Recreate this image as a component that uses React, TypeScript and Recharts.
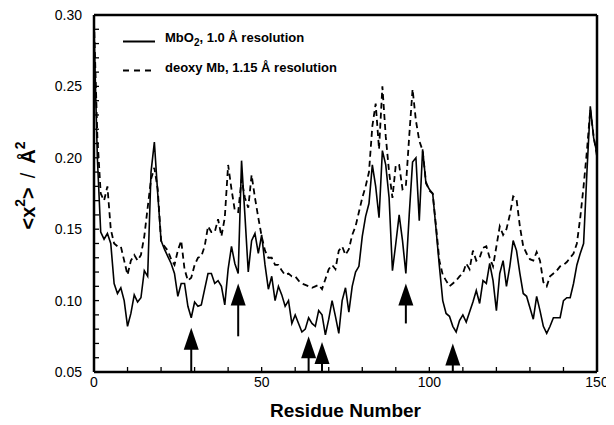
import React from "react";
import { ComposedChart, Line, XAxis, YAxis, ReferenceLine, ReferenceDot } from "recharts";

const FONT = '"Liberation Sans", Arial, Helvetica, sans-serif';

// mean-square displacement per residue
const mbo2 = [
  0.290, 0.200, 0.148, 0.143, 0.147, 0.140, 0.112, 0.105, 0.109, 0.100,
  0.082, 0.091, 0.104, 0.099, 0.102, 0.121, 0.117, 0.190, 0.211, 0.175,
  0.142, 0.136, 0.131, 0.126, 0.119, 0.103, 0.112, 0.112, 0.096, 0.088,
  0.099, 0.096, 0.097, 0.108, 0.119, 0.119, 0.112, 0.114, 0.110, 0.097,
  0.122, 0.138, 0.126, 0.119, 0.198, 0.160, 0.120, 0.142, 0.147, 0.133,
  0.146, 0.125, 0.108, 0.117, 0.100, 0.110, 0.104, 0.096, 0.100, 0.084,
  0.090, 0.084, 0.078, 0.080, 0.088, 0.084, 0.082, 0.093, 0.090, 0.076,
  0.087, 0.100, 0.089, 0.077, 0.100, 0.109, 0.092, 0.110, 0.120, 0.124,
  0.145, 0.159, 0.168, 0.195, 0.180, 0.158, 0.205, 0.195, 0.172, 0.121,
  0.140, 0.160, 0.142, 0.119, 0.160, 0.197, 0.200, 0.156, 0.206, 0.182,
  0.178, 0.175, 0.150, 0.124, 0.100, 0.091, 0.089, 0.082, 0.078, 0.086,
  0.090, 0.085, 0.092, 0.099, 0.107, 0.098, 0.114, 0.112, 0.126, 0.114,
  0.093, 0.119, 0.128, 0.110, 0.124, 0.142, 0.135, 0.119, 0.105, 0.103,
  0.095, 0.087, 0.103, 0.093, 0.082, 0.077, 0.082, 0.088, 0.088, 0.088,
  0.100, 0.102, 0.102, 0.112, 0.125, 0.133, 0.140, 0.190, 0.236, 0.214,
  0.203,
];

const deoxy = [
  0.295, 0.215, 0.175, 0.170, 0.180, 0.150, 0.140, 0.138, 0.138, 0.128,
  0.118, 0.128, 0.132, 0.128, 0.132, 0.145, 0.165, 0.185, 0.193, 0.178,
  0.142, 0.138, 0.135, 0.129, 0.125, 0.135, 0.142, 0.122, 0.114, 0.116,
  0.125, 0.130, 0.131, 0.138, 0.152, 0.148, 0.148, 0.157, 0.145, 0.158,
  0.195, 0.178, 0.163, 0.162, 0.185, 0.172, 0.165, 0.188, 0.172, 0.158,
  0.145, 0.135, 0.130, 0.130, 0.125, 0.125, 0.121, 0.118, 0.119, 0.117,
  0.117, 0.114, 0.112, 0.111, 0.110, 0.109, 0.110, 0.111, 0.108, 0.115,
  0.122, 0.125, 0.122, 0.135, 0.138, 0.132, 0.136, 0.146, 0.152, 0.162,
  0.172, 0.180, 0.190, 0.222, 0.238, 0.206, 0.250, 0.215, 0.190, 0.172,
  0.195, 0.195, 0.178, 0.180, 0.215, 0.248, 0.226, 0.212, 0.205, 0.183,
  0.177, 0.175, 0.152, 0.128, 0.118, 0.114, 0.110, 0.112, 0.114, 0.117,
  0.119, 0.126, 0.122, 0.135, 0.128, 0.130, 0.137, 0.138, 0.130, 0.124,
  0.138, 0.152, 0.146, 0.150, 0.160, 0.173, 0.171, 0.152, 0.138, 0.133,
  0.129, 0.128, 0.134, 0.128, 0.113, 0.110, 0.117, 0.119, 0.121, 0.124,
  0.125, 0.127, 0.130, 0.133, 0.140, 0.158, 0.180, 0.205, 0.234, 0.215,
  0.201,
];

const xTicks = [0, 10, 20, 30, 40, 50, 60, 70, 80, 90, 100, 110, 120, 130, 140, 150];
const xLabels = [0, 50, 100, 150];
const yTicks = [
  0.05, 0.06, 0.07, 0.08, 0.09, 0.1, 0.11, 0.12, 0.13, 0.14, 0.15, 0.16, 0.17,
  0.18, 0.19, 0.2, 0.21, 0.22, 0.23, 0.24, 0.25, 0.26, 0.27, 0.28, 0.29, 0.3,
];
const yLabels = [0.05, 0.1, 0.15, 0.2, 0.25, 0.3];

// marked residues: arrow tip and tail heights
const arrowResidues = [29, 43, 64, 68, 93, 107];
const arrowTips = [0.081, 0.112, 0.075, 0.071, 0.112, 0.07];
const arrowTails = [0.05, 0.075, 0.05, 0.05, 0.084, 0.05];

const data = mbo2.map((v, i) => ({ residue: i, mbo2: v, deoxy: deoxy[i] }));

const frame = { stroke: "#000", strokeWidth: 2.5 };
const tickLn = { stroke: "#000", strokeWidth: 1.3 };

function ArrowHead(props: any) {
  const { cx, cy } = props;
  if (cx == null || cy == null) return null;
  return <path d={`M${cx},${cy} L${cx - 7.5},${cy + 22} L${cx + 7.5},${cy + 22} Z`} fill="#000" />;
}

function XLabel(props: any) {
  const vb = props.viewBox;
  return (
    <text x={vb.x + vb.width / 2} y={vb.y + 38} textAnchor="middle" dominantBaseline="central"
      fontFamily={FONT} fontWeight="bold" fontSize={19} fill="#000">
      Residue Number
    </text>
  );
}

function YLabel(props: any) {
  const vb = props.viewBox;
  const cx = vb.x + 20;
  const cy = vb.y + vb.height / 2 - 8;
  return (
    <text x={cx} y={cy} transform={`rotate(-90 ${cx} ${cy})`} textAnchor="middle" dominantBaseline="central"
      fontFamily={FONT} fontWeight="bold" fontSize={20} fill="#000">
      {"<x"}
      <tspan dy={-8} fontSize={14}>2</tspan>
      <tspan dy={8}>{">"}</tspan>
      <tspan dx={9} fontWeight="normal">/</tspan>
      <tspan dx={9}>Å</tspan>
      <tspan dy={-8} fontSize={14}>2</tspan>
    </text>
  );
}

function LegendBox() {
  return (
    <svg width={420} height={80} style={{ position: "absolute", left: 0, top: 0, pointerEvents: "none" }}>
      <g fontFamily={FONT} fontWeight="bold" fontSize={13} fill="#000">
        <line x1={115} x2={147} y1={33.5} y2={33.5} stroke="#000" strokeWidth={2} />
        <text x={157} y={34}>
          MbO<tspan dy={4} fontSize={10}>2</tspan><tspan dy={-4}>, 1.0 Å resolution</tspan>
        </text>
        <line x1={115} x2={147} y1={62.5} y2={62.5} stroke="#000" strokeWidth={2.2} strokeDasharray="6 5" />
        <text x={157} y={64}>deoxy Mb, 1.15 Å resolution</text>
      </g>
    </svg>
  );
}

export default function App() {
  return (
    <div style={{ position: "relative", width: 606, height: 417 }}>
      <ComposedChart width={606} height={417} data={data} margin={{ top: 6, right: 7, bottom: 0, left: 0 }}>
        <XAxis
          xAxisId="bottom"
          dataKey="residue"
          type="number"
          domain={[0, 150]}
          ticks={xTicks}
          interval={0}
          tickFormatter={(v: number) => (xLabels.includes(v) ? String(v) : "")}
          tickSize={-5}
          tickMargin={10}
          height={53}
          axisLine={frame}
          tickLine={tickLn}
          tick={{ fill: "#000", fontSize: 14, fontFamily: FONT }}
          label={(p: any) => <XLabel {...p} />}
        />
        <XAxis
          xAxisId="top"
          orientation="top"
          dataKey="residue"
          type="number"
          domain={[0, 150]}
          ticks={xTicks}
          interval={0}
          tick={false}
          tickSize={-5}
          height={1}
          axisLine={frame}
          tickLine={tickLn}
        />
        <YAxis
          yAxisId="left"
          type="number"
          domain={[0.05, 0.3]}
          ticks={yTicks}
          interval={0}
          allowDataOverflow
          tickFormatter={(v: number) => (yLabels.some((l) => Math.abs(l - v) < 1e-6) ? v.toFixed(2) : "")}
          tickSize={-5}
          tickMargin={17}
          width={86}
          axisLine={frame}
          tickLine={tickLn}
          tick={{ fill: "#000", fontSize: 14, fontFamily: FONT }}
          label={(p: any) => <YLabel {...p} />}
        />
        <YAxis
          yAxisId="right"
          orientation="right"
          type="number"
          domain={[0.05, 0.3]}
          ticks={yTicks}
          interval={0}
          allowDataOverflow
          tick={false}
          tickSize={-5}
          width={10}
          axisLine={frame}
          tickLine={tickLn}
        />
        <Line
          xAxisId="bottom"
          yAxisId="left"
          type="linear"
          dataKey="deoxy"
          stroke="#000"
          strokeWidth={1.8}
          strokeDasharray="6 4"
          dot={false}
          isAnimationActive={false}
        />
        <Line
          xAxisId="bottom"
          yAxisId="left"
          type="linear"
          dataKey="mbo2"
          stroke="#000"
          strokeWidth={1.6}
          dot={false}
          isAnimationActive={false}
        />
        {arrowResidues.map((r, i) => (
          <ReferenceLine
            key={`stem-${i}`}
            xAxisId="bottom"
            yAxisId="left"
            segment={[{ x: r, y: arrowTails[i] }, { x: r, y: arrowTips[i] - 0.01 }]}
            stroke="#000"
            strokeWidth={2}
          />
        ))}
        {arrowResidues.map((r, i) => (
          <ReferenceDot
            key={`head-${i}`}
            xAxisId="bottom"
            yAxisId="left"
            x={r}
            y={arrowTips[i]}
            r={1}
            shape={ArrowHead}
          />
        ))}
      </ComposedChart>
      <LegendBox />
    </div>
  );
}
